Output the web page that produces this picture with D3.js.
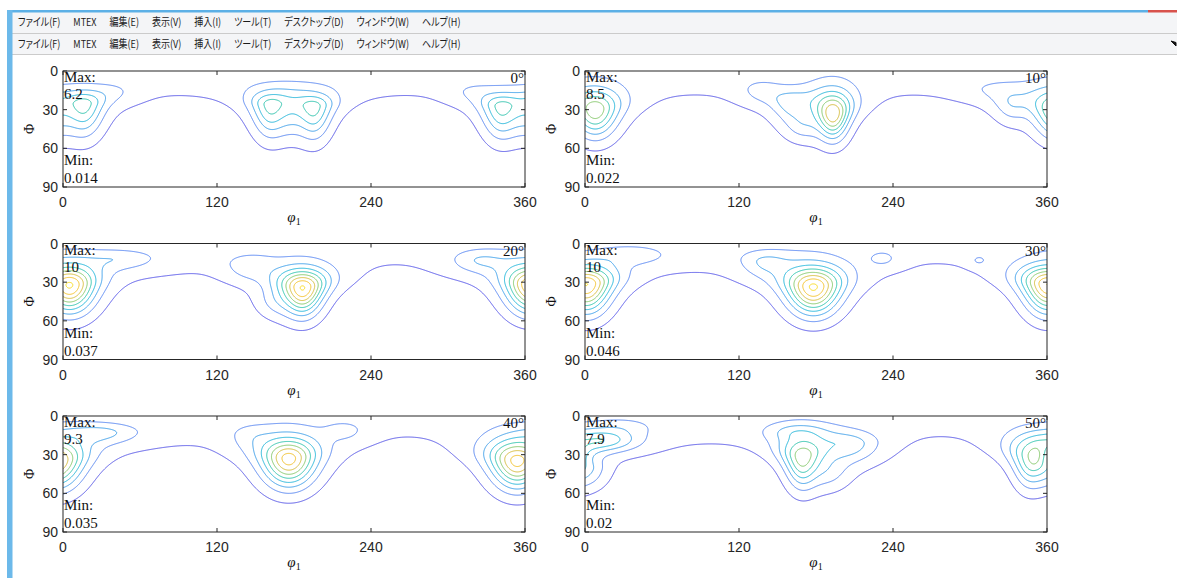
<!DOCTYPE html>
<html>
<head>
<meta charset="utf-8">
<script src="https://cdnjs.cloudflare.com/ajax/libs/d3/7.8.5/d3.min.js"></script>
<style>
    body { margin: 0; background: #fff; }
    .menu { font-family: "Noto Sans CJK JP", sans-serif; font-size: 11px; fill: #1b1b1b; font-feature-settings: "palt"; }
    .tick { font-family: "Liberation Sans", Arial, sans-serif; font-size: 14px; fill: #262626; }
    .tex { font-family: "Liberation Serif", "DejaVu Serif", serif; font-size: 15px; fill: #111; }
</style>
</head>
<body>
<svg id="odf" width="1177" height="578"></svg>
<script>

const menuItems = ["ファイル(F)", "MTEX", "編集(E)", "表示(V)", "挿入(I)", "ツール(T)", "デスクトップ(D)", "ウィンドウ(W)", "ヘルプ(H)"];

const phi1Ticks = [0, 120, 240, 360];
const PhiTicks = [0, 30, 60, 90];

// phi2 of each section and the printed extremes
const sections = [0, 10, 20, 30, 40, 50];
const maxLabels = ["6.2", "8.5", "10", "10", "9.3", "7.9"];
const minLabels = ["0.014", "0.022", "0.037", "0.046", "0.035", "0.02"];

// contour levels (mrd)
const levels = [1.1, 2.2, 3.3, 4.4, 5.5, 6.6, 7.7, 8.8, 9.9];
const levelColors = ["#5858e8", "#5a88f2", "#3fa0ea", "#24b6da", "#30c4ae", "#86c96c", "#d6bd3e", "#f3c22c", "#f7db26"];

// band along Phi = 0 for each section: [height, width]
const bands = [[1.3, 30], [1.3, 30], [1.22, 30], [1.22, 30], [1.22, 30], [1.22, 30]];

// texture components read off each section:
// [phi1, Phi, height, width phi1 (upper part), width phi1 (lower part), width Phi above, width Phi below]
const comps0 = [
    [17, 26, 4.7, 13, 9, 7.5, 16], [-19, 28, 4.7, 13, 9, 7.5, 16], [-1, 36, 1.5, 9, 9, 10, 12],
    [40, 16, 0.85, 12, 12, 5, 6], [-42, 16, 0.85, 12, 12, 5, 6],
    [161, 26.5, 4.7, 13, 8.5, 7.5, 16], [196, 28, 4.8, 13, 8, 7.5, 16], [178, 36, 1.5, 9, 9, 10, 12],
    [178, 13, 0.5, 28, 28, 5, 5]
];
const comps10 = [
    [8, 30.5, 6.6, 15, 10.5, 11.4, 13.7], [-28, 26, 1.8, 12, 8, 8, 10], [-42, 14, 0.9, 16, 16, 5, 6],
    [193.5, 33, 7.7, 11.5, 7, 11.9, 12.5], [160, 24, 2.6, 14, 9, 7, 9], [136, 15, 1.2, 12, 10, 6, 7],
    [170, 42, 2.0, 11, 11, 9, 10]
];
const comps20 = [
    [90, 0, 0.14, 30, 30, 25, 25],
    [5, 32.6, 9.3, 15.5, 12, 10.5, 13.7], [45, 12, 1.7, 20, 20, 5, 6], [325, 13, 2.0, 16, 16, 6, 7],
    [187, 34.4, 9.1, 15, 9, 10, 13], [145, 17, 1.8, 14, 12, 6, 8], [165, 45, 1.6, 11, 11, 9, 10]
];
const comps30 = [
    [90, 0, 0.14, 30, 30, 25, 25],
    [1, 32, 9.2, 17, 11, 10, 14.3], [38, 9, 1.6, 18, 18, 5, 5],
    [178, 34, 9.4, 17, 12.5, 11, 13.6], [140, 14, 2.0, 15, 12, 6, 8],
    [232, 11.6, 1.3, 8.5, 8.5, 4.6, 4.6], [307, 13, 1.25, 4, 4, 2.5, 2.5]
];
const comps40 = [
    [95, 0, 0.14, 30, 30, 25, 25],
    [354, 35, 8.6, 17.5, 12.5, 11.5, 14], [30, 13, 2.25, 20, 20, 5, 6],
    [176, 33.5, 8.6, 16.5, 13, 11.4, 14], [220, 11, 1.3, 11, 11, 5, 6], [145, 15, 1.0, 12, 12, 6, 8]
];
const comps50 = [
    [95, 0, 0.14, 30, 30, 25, 25],
    [168.8, 31.7, 6.1, 14, 7.5, 11, 14.6], [206, 22, 2.8, 16, 16, 7, 10], [190, 44, 1.8, 12, 12, 9, 11],
    [165, 12, 1.6, 18, 18, 5, 5],
    [346, 31.7, 4.6, 14, 7.5, 11, 14.4], [352, 31, 1.3, 5, 5, 6, 7], [2, 42, 2.4, 11, 11, 7, 11],
    [15, 19, 3.8, 18, 18, 6, 6], [30, 8, 1.0, 18, 18, 5, 5]
];
const components = [comps0, comps10, comps20, comps30, comps40, comps50];

const svg = d3.select("#odf");
const W = 1177, H = 578;

/*
|--------------------------------------------------------------------------
| Window chrome : borders and the two menu bars
|--------------------------------------------------------------------------
*/

svg.append("rect")
.attr("x", 12).attr("y", 12)
.attr("width", W - 12).attr("height", 43)
.attr("fill", "#f4f5f7");

[33.5, 54.5].forEach(yy => {
    svg.append("line")
    .attr("x1", 12).attr("x2", W)
    .attr("y1", yy).attr("y2", yy)
    .attr("stroke", "#cbcbcb");
});

svg.append("rect").attr("x", 7).attr("y", 10).attr("width", 1141).attr("height", 2.5).attr("fill", "#5cb0e6");
svg.append("rect").attr("x", 1148).attr("y", 10).attr("width", W - 1148).attr("height", 2.5).attr("fill", "#d8524c");
svg.append("rect").attr("x", 7).attr("y", 10).attr("width", 5.5).attr("height", H - 10).attr("fill", "#6cb9ea");

[26, 48].forEach(base => {
    let cx = 18;
    menuItems.forEach(label => {
        const t = svg.append("text")
        .attr("class", "menu")
        .attr("x", cx)
        .attr("y", base)
        .text(label);
        const len = t.node().getComputedTextLength() * 0.82;
        t.attr("textLength", len).attr("lengthAdjust", "spacingAndGlyphs");
        cx += len + 13;
    });
});

svg.append("path")
.attr("d", "M1171,41 L1176,46 L1176,42.5 Z M1171,41 L1174,44")
.attr("fill", "#111")
.attr("stroke", "#111")
.attr("stroke-width", 1);

/*
|--------------------------------------------------------------------------
| ODF value from the components
|--------------------------------------------------------------------------
*/

const nu = 4;
const kernel = r2 => Math.pow(1 + r2 / (2 * nu), -nu);

function density(p1, P, band, comps) {
    let v = band[0] * kernel((P / band[1]) ** 2);
    comps.forEach(([c1, c2, a, sxu, sxl, su, sd]) => {
        const d1 = (((p1 - c1) % 360) + 540) % 360 - 180;
        const w = 1 / (1 + Math.exp((P - c2) / 6));
        const sx = sxl + (sxu - sxl) * w;
        const s = P < c2 ? su : sd;
        v += a * kernel((d1 / sx) ** 2 + ((P - c2) / s) ** 2);
    });
    return v;
}

const step = 0.5, p0 = -6, q0 = -6;
const nx = Math.round((366 - p0) / step) + 1;
const ny = Math.round((96 - q0) / step) + 1;

const panelW = 462, panelH = 116;

sections.forEach((sec, k) => {

    const col = k % 2, row = Math.floor(k / 2);
    const left = col ? 585 : 63;
    const top = 71 + row * 172.5;

    const x = d3.scaleLinear().domain([0, 360]).range([left, left + panelW]);
    const y = d3.scaleLinear().domain([0, 90]).range([top, top + panelH]);

    const g = svg.append("g");

    g.append("clipPath")
    .attr("id", `clip${k}`)
    .append("rect")
    .attr("x", left).attr("y", top)
    .attr("width", panelW).attr("height", panelH);

    /*
    |--------------------------------------------------------------------------
    | Contour lines
    |--------------------------------------------------------------------------
    */

    const values = new Float64Array(nx * ny);
    for (let j = 0; j < ny; j++) {
        for (let i = 0; i < nx; i++) {
            values[j * nx + i] = density(p0 + i * step, q0 + j * step, bands[k], components[k]);
        }
    }

    const contours = d3.contours()
    .size([nx, ny])
    .thresholds(levels)(values);

    const proj = d3.geoTransform({
        point: function (px, py) {
            this.stream.point(x(p0 + (px - 0.5) * step), y(q0 + (py - 0.5) * step));
        }
    });

    g.append("g")
    .attr("clip-path", `url(#clip${k})`)
    .selectAll("path")
    .data(contours)
    .join("path")
    .attr("d", d3.geoPath(proj))
    .attr("fill", "none")
    .attr("stroke", (d, i) => levelColors[i])
    .attr("stroke-width", 1);

    /*
    |--------------------------------------------------------------------------
    | Box, ticks and labels
    |--------------------------------------------------------------------------
    */

    g.append("rect")
    .attr("x", left).attr("y", top)
    .attr("width", panelW).attr("height", panelH)
    .attr("fill", "none")
    .attr("stroke", "#262626")
    .attr("stroke-width", 1);

    phi1Ticks.forEach(t => {
        g.append("line").attr("x1", x(t)).attr("x2", x(t)).attr("y1", top + panelH).attr("y2", top + panelH - 4).attr("stroke", "#262626");
        g.append("line").attr("x1", x(t)).attr("x2", x(t)).attr("y1", top).attr("y2", top + 4).attr("stroke", "#262626");
        g.append("text")
        .attr("class", "tick")
        .attr("x", x(t))
        .attr("y", top + panelH + 20)
        .attr("text-anchor", "middle")
        .text(t);
    });

    PhiTicks.forEach(t => {
        g.append("line").attr("x1", left).attr("x2", left + 4).attr("y1", y(t)).attr("y2", y(t)).attr("stroke", "#262626");
        g.append("line").attr("x1", left + panelW).attr("x2", left + panelW - 4).attr("y1", y(t)).attr("y2", y(t)).attr("stroke", "#262626");
        g.append("text")
        .attr("class", "tick")
        .attr("x", left - 5)
        .attr("y", y(t))
        .attr("dy", "0.36em")
        .attr("text-anchor", "end")
        .text(t);
    });

    g.append("text")
    .attr("class", "tex")
    .attr("transform", `translate(${left - 29},${top + panelH / 2}) rotate(-90)`)
    .attr("text-anchor", "middle")
    .style("font-size", "14px")
    .text("Φ");

    const xl = g.append("text")
    .attr("class", "tex")
    .attr("x", left + panelW / 2)
    .attr("y", top + panelH + 35)
    .attr("text-anchor", "middle");
    xl.append("tspan").style("font-style", "italic").text("φ");
    xl.append("tspan").attr("dy", 3).style("font-size", "10px").text("1");

    g.append("text").attr("class", "tex").attr("x", left + 1).attr("y", top + 11).text("Max:");
    g.append("text").attr("class", "tex").attr("x", left + 1).attr("y", top + 28).text(maxLabels[k]);
    g.append("text").attr("class", "tex").attr("x", left + 1).attr("y", top + 94).text("Min:");
    g.append("text").attr("class", "tex").attr("x", left + 1).attr("y", top + 112).text(minLabels[k]);

    g.append("text")
    .attr("class", "tex")
    .attr("x", left + panelW - 1)
    .attr("y", top + 12)
    .attr("text-anchor", "end")
    .text(`${sec}°`);
});

</script>
</body>
</html>
